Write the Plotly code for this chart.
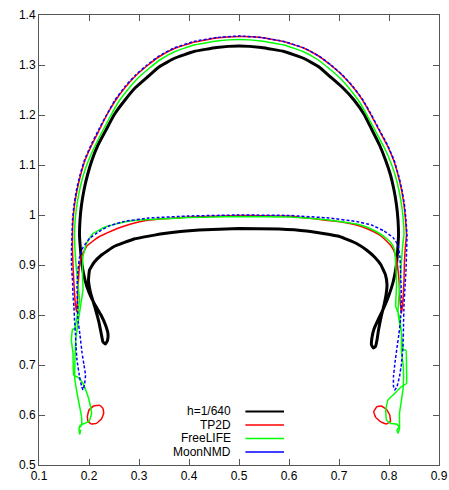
import plotly.graph_objects as go

# Bubble interface contours (x, y); None separates disconnected pieces.
ref_x = [0.500, 0.455, 0.410, 0.370, 0.340, 0.318, 0.293, 0.272, 0.250, 0.234, 0.218, 0.206, 0.197, 0.190,
         0.185, 0.182, 0.181, 0.183, 0.186, 0.192, 0.200, 0.211, 0.224, 0.233, 0.238, 0.237, 0.233,
         0.228, 0.225, 0.220, 0.212, 0.203, 0.199, 0.201, 0.210, 0.225, 0.250, 0.290, 0.350, 0.420, 0.500,
         0.580, 0.635, 0.701, 0.735, 0.755, 0.772, 0.784, 0.793, 0.796, 0.794, 0.790, 0.784, 0.779, 0.776,
         0.773, 0.769, 0.765, 0.766, 0.770, 0.779, 0.790, 0.800, 0.808, 0.814, 0.817, 0.819, 0.818, 0.815,
         0.810, 0.803, 0.793, 0.781, 0.766, 0.751, 0.730, 0.707, 0.682, 0.660, 0.630, 0.590, 0.545, 0.500]
ref_y = [1.338, 1.335, 1.327, 1.313, 1.296, 1.277, 1.255, 1.230, 1.200, 1.170, 1.140, 1.110, 1.080, 1.050,
         1.020, 0.990, 0.960, 0.930, 0.900, 0.870, 0.845, 0.822, 0.800, 0.780, 0.762, 0.749, 0.742,
         0.746, 0.760, 0.785, 0.815, 0.845, 0.870, 0.890, 0.905, 0.920, 0.937, 0.952, 0.963, 0.970, 0.973,
         0.972, 0.968, 0.957, 0.943, 0.930, 0.915, 0.900, 0.880, 0.860, 0.840, 0.820, 0.795, 0.770, 0.750,
         0.737, 0.734, 0.740, 0.755, 0.772, 0.792, 0.815, 0.840, 0.865, 0.895, 0.925, 0.960, 0.990, 1.020,
         1.050, 1.080, 1.110, 1.140, 1.170, 1.200, 1.230, 1.255, 1.277, 1.296, 1.313, 1.327, 1.335, 1.338]

tp2d_x = [0.500, 0.455, 0.411, 0.371, 0.341, 0.317, 0.294, 0.273, 0.253, 0.235, 0.220, 0.205, 0.192, 0.183,
          0.176, 0.171, 0.168, 0.167, 0.167, 0.168, 0.170, 0.172, 0.175, 0.177, 0.179, 0.181, 0.185,
          0.195, 0.208, 0.221, 0.245, 0.268, 0.295, 0.321, 0.400, 0.500,
          0.600, 0.669, 0.705, 0.735, 0.760, 0.781, 0.795, 0.805, 0.811, 0.816, 0.820, 0.822, 0.825, 0.828,
          0.830, 0.831, 0.833, 0.835, 0.833, 0.830, 0.825, 0.818, 0.809, 0.796, 0.780, 0.764, 0.747,
          0.727, 0.706, 0.683, 0.659, 0.629, 0.589, 0.545, 0.500, None,
          0.1967, 0.200, 0.2094, 0.2214, 0.228, 0.2294, 0.2248, 0.2148, 0.2048, 0.198, 0.1967, None,
          0.7694, 0.776, 0.7848, 0.7948, 0.8014, 0.8028, 0.7948, 0.7828, 0.7734, 0.7694]
tp2d_y = [1.357, 1.354, 1.346, 1.333, 1.317, 1.299, 1.279, 1.256, 1.229, 1.199, 1.169, 1.139, 1.109, 1.079,
          1.049, 1.019, 0.989, 0.960, 0.930, 0.900, 0.860, 0.830, 0.806, 0.830, 0.870, 0.900, 0.917,
          0.937, 0.948, 0.957, 0.968, 0.977, 0.985, 0.990, 0.996, 0.999,
          0.998, 0.990, 0.986, 0.980, 0.971, 0.960, 0.948, 0.937, 0.925, 0.905, 0.870, 0.830, 0.803, 0.830,
          0.870, 0.910, 0.940, 0.960, 0.990, 1.020, 1.050, 1.080, 1.110, 1.140, 1.170, 1.200, 1.230,
          1.257, 1.280, 1.300, 1.318, 1.334, 1.347, 1.355, 1.357, None,
          0.5967, 0.610, 0.618, 0.6193, 0.613, 0.6033, 0.592, 0.5833, 0.582, 0.5867, 0.5967, None,
          0.6067, 0.6167, 0.618, 0.6113, 0.600, 0.5867, 0.582, 0.5867, 0.5953, 0.6067]

freelife_x = [0.500, 0.455, 0.410, 0.372, 0.343, 0.320, 0.297, 0.277, 0.257, 0.241, 0.225, 0.210, 0.197,
              0.187, 0.180, 0.175, 0.172, 0.171, 0.172, 0.174, 0.177, 0.179, 0.181, 0.176, 0.1714,
              0.167, 0.1648, 0.168, 0.1694, 0.178, 0.188, 0.196, 0.200, 0.205, 0.200, 0.188, 0.1814, 0.180,
              0.183, 0.1814, 0.180, 0.185, 0.185, 0.180, 0.175, 0.1714, 0.172, 0.1734, 0.176, 0.180, 0.185,
              0.188, 0.187, 0.188, 0.195, 0.208, 0.235, 0.270, 0.301, 0.400, 0.500,
              0.600, 0.680, 0.735, 0.760, 0.781, 0.795, 0.805, 0.811, 0.8134, 0.815, 0.8134, 0.821, 0.825,
              0.8286, 0.834, 0.835, 0.835, 0.825, 0.8114, 0.798, 0.7934, 0.795, 0.8028, 0.815, 0.820, 0.816,
              0.818, 0.821, 0.821, 0.825, 0.8286, 0.8286, 0.825, 0.825, 0.820, 0.818, 0.820, 0.823, 0.826,
              0.828, 0.830, 0.829, 0.826, 0.821, 0.814, 0.804, 0.791, 0.775, 0.759, 0.743, 0.723,
              0.703, 0.680, 0.657, 0.628, 0.590, 0.545, 0.500]
freelife_y = [1.351, 1.348, 1.340, 1.327, 1.311, 1.293, 1.273, 1.250, 1.223, 1.194, 1.164, 1.134, 1.104,
              1.074, 1.044, 1.014, 0.985, 0.960, 0.930, 0.900, 0.870, 0.850, 0.830, 0.797, 0.773,
              0.771, 0.750, 0.723, 0.680, 0.675, 0.663, 0.643, 0.630, 0.603, 0.587, 0.582, 0.578, 0.571,
              0.569, 0.5614, 0.573, 0.580, 0.597, 0.623, 0.650, 0.673, 0.710, 0.750, 0.770, 0.797, 0.830,
              0.850, 0.883, 0.917, 0.943, 0.963, 0.977, 0.986, 0.990, 0.995, 0.997,
              0.996, 0.990, 0.982, 0.974, 0.963, 0.953, 0.943, 0.930, 0.903, 0.857, 0.817, 0.797, 0.763,
              0.730, 0.730, 0.697, 0.663, 0.657, 0.643, 0.630, 0.610, 0.590, 0.5833, 0.582, 0.5767, 0.570,
              0.5634, 0.5734, 0.6034, 0.630, 0.657, 0.697, 0.7266, 0.763, 0.790, 0.810, 0.840, 0.880, 0.923,
              0.945, 0.960, 0.985, 1.014, 1.044, 1.074, 1.104, 1.134, 1.164, 1.194, 1.223, 1.250,
              1.273, 1.293, 1.311, 1.327, 1.340, 1.348, 1.351]

moon_x = [0.500, 0.455, 0.410, 0.370, 0.340, 0.316, 0.293, 0.272, 0.252, 0.235, 0.219, 0.204, 0.191, 0.182,
          0.175, 0.170, 0.167, 0.166, 0.165, 0.165, 0.167, 0.168, 0.170, 0.171, 0.173, 0.174, 0.176,
          0.181, 0.185, 0.188, 0.191, 0.193, 0.190, 0.186, 0.182, 0.178, 0.177, 0.176, 0.178, 0.181, 0.188,
          0.201, 0.220, 0.240, 0.270, 0.320, 0.400, 0.500,
          0.600, 0.680, 0.735, 0.765, 0.790, 0.808, 0.818, 0.822, 0.823, 0.824, 0.825, 0.823, 0.820, 0.816,
          0.812, 0.809, 0.809, 0.8114, 0.816, 0.821, 0.825, 0.828, 0.829, 0.830, 0.832, 0.834, 0.835, 0.836,
          0.834, 0.831, 0.826, 0.819, 0.810, 0.797, 0.781, 0.765, 0.748, 0.728, 0.707, 0.684, 0.660,
          0.630, 0.590, 0.545, 0.500]
moon_y = [1.358, 1.355, 1.347, 1.334, 1.318, 1.300, 1.280, 1.257, 1.230, 1.200, 1.170, 1.140, 1.110, 1.080,
          1.050, 1.020, 0.990, 0.960, 0.930, 0.900, 0.870, 0.840, 0.815, 0.790, 0.760, 0.737, 0.710,
          0.677, 0.658, 0.650, 0.660, 0.680, 0.700, 0.725, 0.760, 0.790, 0.825, 0.857, 0.890, 0.915, 0.935,
          0.953, 0.967, 0.978, 0.987, 0.994, 0.998, 1.000,
          0.999, 0.994, 0.987, 0.980, 0.968, 0.955, 0.940, 0.915, 0.890, 0.860, 0.823, 0.790, 0.763, 0.735,
          0.705, 0.677, 0.657, 0.650, 0.657, 0.677, 0.703, 0.737, 0.777, 0.820, 0.857, 0.890, 0.923, 0.960,
          0.990, 1.020, 1.050, 1.080, 1.110, 1.140, 1.170, 1.200, 1.230, 1.257, 1.280, 1.300, 1.318,
          1.334, 1.347, 1.355, 1.358]

series_names = ["h=1/640", "TP2D", "FreeLIFE", "MoonNMD"]
series_colors = ["#000000", "#ff0000", "#00ff00", "#0000ff"]
series_widths = [3, 1.5, 1.5, 1.5]
series_dash = ["solid", "solid", "solid", "3px,2px"]
series_data = [(ref_x, ref_y), (tp2d_x, tp2d_y), (freelife_x, freelife_y), (moon_x, moon_y)]

x_ticks = [0.1, 0.2, 0.3, 0.4, 0.5, 0.6, 0.7, 0.8, 0.9]
y_ticks = [0.5, 0.6, 0.7, 0.8, 0.9, 1.0, 1.1, 1.2, 1.3, 1.4]
x_labels = ["0.1", "0.2", "0.3", "0.4", "0.5", "0.6", "0.7", "0.8", "0.9"]
y_labels = ["0.5", "0.6", "0.7", "0.8", "0.9", "1", "1.1", "1.2", "1.3", "1.4"]

fig = go.Figure()
for name, col, w, dash, (xs, ys) in zip(series_names, series_colors, series_widths,
                                         series_dash, series_data):
    fig.add_trace(go.Scatter(
        x=xs, y=ys, mode="lines", name=name, showlegend=False,
        line=dict(color=col, width=w, dash=dash, shape="spline", smoothing=0.3),
        connectgaps=False, hoverinfo="skip",
    ))

# Key in the lower middle of the plot: right-aligned labels, line samples to their right
key_rows_y = [0.119, 0.089, 0.059, 0.029]
key_widths = [2, 1.5, 1.5, 1.5]
for name, col, w, ky in zip(series_names, series_colors, key_widths, key_rows_y):
    fig.add_annotation(x=0.484, y=ky, xref="paper", yref="paper", text=name, showarrow=False,
                       xanchor="right", yanchor="middle",
                       font=dict(family="Liberation Sans, Arial, sans-serif", size=12, color="#000"))
    fig.add_shape(type="line", xref="paper", yref="paper", x0=0.516, x1=0.6125, y0=ky, y1=ky,
                  line=dict(color=col, width=w))

axis_style = dict(
    showline=True, linecolor="#555", linewidth=1, mirror="ticks",
    ticks="inside", ticklen=6, tickcolor="#555", tickwidth=1,
    showgrid=False, zeroline=False, automargin=False,
    tickfont=dict(family="Liberation Sans, Arial, sans-serif", size=12, color="#000"),
)
fig.update_xaxes(range=[0.1, 0.9], tickvals=x_ticks, ticktext=x_labels, **axis_style)
fig.update_yaxes(range=[0.5, 1.4], tickvals=y_ticks, ticktext=y_labels, **axis_style)

fig.update_layout(
    width=449, height=490, autosize=False,
    margin=dict(l=39.3, r=9.7, t=15, b=25),
    paper_bgcolor="white", plot_bgcolor="white",
    showlegend=False,
)

fig.write_html("out.html")
